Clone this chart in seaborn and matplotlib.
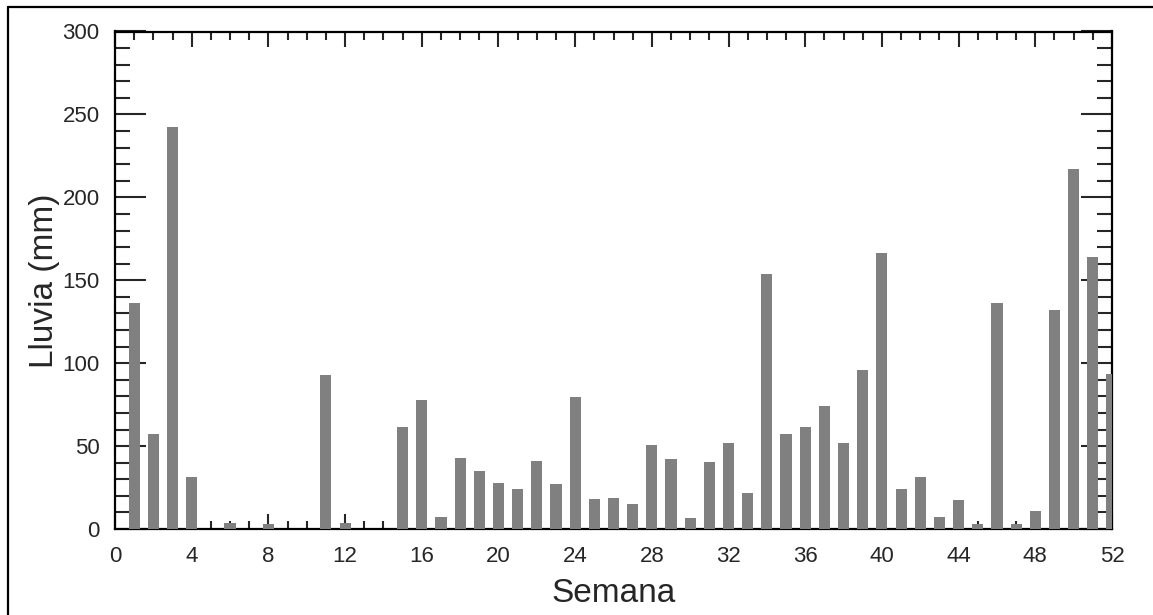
import numpy as np
import pandas as pd
import matplotlib
matplotlib.use("Agg")
import matplotlib.pyplot as plt
import seaborn as sns
from matplotlib.ticker import MultipleLocator
from matplotlib.lines import Line2D

# Weekly rainfall (mm), weeks 1..52
semana = list(range(1, 53))
lluvia = [136, 57.5, 242.5, 31.5, 0, 3.6, 0, 3, 0, 0,
          92.7, 3.6, 0, 0, 61.5, 78, 7.4, 42.8, 35, 27.5,
          24, 40.8, 27, 79.4, 18, 18.9, 14.9, 50.8, 42.2, 6.8,
          40.2, 52, 21.5, 154, 57, 61.5, 74, 52, 96, 166.5,
          24, 31.5, 7.4, 17.5, 2.8, 136, 2.8, 10.9, 132, 217,
          164, 93.5]

df = pd.DataFrame({"Semana": semana, "Lluvia": lluvia})

sns.set_style("white")
plt.rcParams['font.family'] = ['Liberation Sans', 'DejaVu Sans']

fig = plt.figure(figsize=(11.53, 6.15), dpi=100)
ax = fig.add_axes([115 / 1153, 1 - 529 / 615, 997 / 1153, 497.5 / 615])

sns.barplot(data=df, x="Semana", y="Lluvia", native_scale=True, width=0.58,
            color="#808080", saturation=1, linewidth=0, ax=ax)
for p in ax.patches:
    p.set_zorder(3)

ax.set_xlim(0, 52)
ax.set_ylim(0, 300)
ax.xaxis.set_major_locator(MultipleLocator(4))
ax.xaxis.set_minor_locator(MultipleLocator(1))
ax.yaxis.set_major_locator(MultipleLocator(50))
ax.yaxis.set_minor_locator(MultipleLocator(10))

for s in ax.spines.values():
    s.set_visible(True)
    s.set_color("black")
    s.set_linewidth(1.6)

ax.tick_params(axis="x", which="major", direction="in", length=11, width=1.5,
               top=True, bottom=True, labelsize=16, pad=12)
ax.tick_params(axis="x", which="minor", direction="in", length=5.5, width=1.5,
               top=True, bottom=True)
ax.tick_params(axis="y", which="major", direction="in", length=22, width=1.5,
               left=True, right=True, labelsize=16, pad=11)
ax.tick_params(axis="y", which="minor", direction="in", length=11, width=1.5,
               left=True, right=True)

ax.set_xlabel("Semana", fontsize=24, labelpad=8)
ax.set_ylabel("Lluvia (mm)", fontsize=24, labelpad=2)

# outer frame (left and top edges visible)
fig.add_artist(Line2D([8 / 1153, 8 / 1153], [0, 1 - 7 / 615], transform=fig.transFigure,
                      color="black", linewidth=1.6))
fig.add_artist(Line2D([8 / 1153, 1], [1 - 7 / 615, 1 - 7 / 615], transform=fig.transFigure,
                      color="black", linewidth=1.6))

fig.savefig("out.png", dpi=100, facecolor="white")
